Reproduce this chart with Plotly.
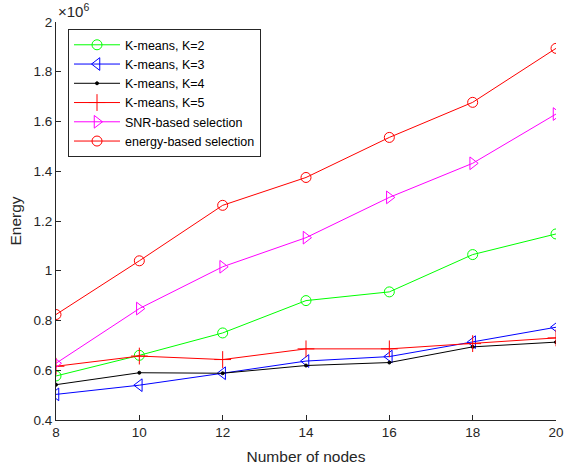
import plotly.graph_objects as go

nodes = [8, 10, 12, 14, 16, 18, 20]
k2 = [0.577e6, 0.66e6, 0.75e6, 0.88e6, 0.915e6, 1.065e6, 1.148e6]
k3 = [0.503e6, 0.54e6, 0.588e6, 0.637e6, 0.655e6, 0.713e6, 0.773e6]
k4 = [0.542e6, 0.59e6, 0.588e6, 0.619e6, 0.631e6, 0.694e6, 0.713e6]
k5 = [0.616e6, 0.657e6, 0.643e6, 0.686e6, 0.686e6, 0.707e6, 0.73e6]
snr = [0.628e6, 0.848e6, 1.016e6, 1.133e6, 1.295e6, 1.432e6, 1.63e6]
energy = [0.824e6, 1.04e6, 1.263e6, 1.375e6, 1.536e6, 1.677e6, 1.894e6]

names = ["K-means, K=2", "K-means, K=3", "K-means, K=4", "K-means, K=5",
         "SNR-based selection", "energy-based selection"]
colors = ["#00ff00", "#0000ff", "#000000", "#ff0000", "#ff00ff", "#ff0000"]
symbols = ["circle-open", "triangle-left-open", "circle", "cross-thin-open",
           "triangle-right-open", "circle-open"]
sizes = [10, 11, 3, 12, 11, 10]
series = [k2, k3, k4, k5, snr, energy]

yticks = [0.4e6, 0.6e6, 0.8e6, 1.0e6, 1.2e6, 1.4e6, 1.6e6, 1.8e6, 2.0e6]
yticktext = ["0.4", "0.6", "0.8", "1", "1.2", "1.4", "1.6", "1.8", "2"]
xticks = [8, 10, 12, 14, 16, 18, 20]

fig = go.Figure()
for nm, c, s, sz, y in zip(names, colors, symbols, sizes, series):
    fig.add_trace(go.Scatter(
        x=nodes, y=y, name=nm, mode="lines+markers",
        line=dict(color=c, width=1),
        marker=dict(symbol=s, size=sz, color=c, line=dict(color=c, width=1)),
    ))

FONT = "Liberation Sans, Arial, sans-serif"
axis_font = dict(family=FONT, size=13.5, color="#262626")
fig.update_layout(
    width=564, height=470,
    margin=dict(l=56, r=8, t=22, b=50),
    paper_bgcolor="white", plot_bgcolor="white",
    font=dict(family=FONT, size=13, color="#262626"),
    showlegend=True,
    legend=dict(x=0.024, y=0.982, xanchor="left", yanchor="top",
                bordercolor="#262626", borderwidth=1, bgcolor="white",
                font=dict(family=FONT, size=12.5, color="#000000"),
                tracegroupgap=0, itemwidth=46),
    xaxis=dict(range=[8, 20], tickvals=xticks, ticks="inside", ticklen=5,
               showgrid=False, zeroline=False, showline=True, linecolor="#262626",
               linewidth=1, tickcolor="#262626", tickfont=axis_font, automargin=False,
               title=dict(text="Number of nodes", font=dict(family=FONT, size=15.5, color="#262626"), standoff=11)),
    yaxis=dict(range=[0.4e6, 2.0e6], tickvals=yticks, ticktext=yticktext,
               ticks="inside", ticklen=5, showgrid=False, zeroline=False,
               showline=True, linecolor="#262626", linewidth=1, tickcolor="#262626",
               tickfont=axis_font, automargin=False,
               title=dict(text="Energy", font=dict(family=FONT, size=15.5, color="#262626"), standoff=8)),
    annotations=[dict(text="×10<sup>6</sup>", xref="paper", yref="paper", x=0.0, y=1.0,
                      xanchor="left", yanchor="bottom", showarrow=False,
                      font=dict(family=FONT, size=15, color="#262626"))],
)

fig.write_html("out.html")
